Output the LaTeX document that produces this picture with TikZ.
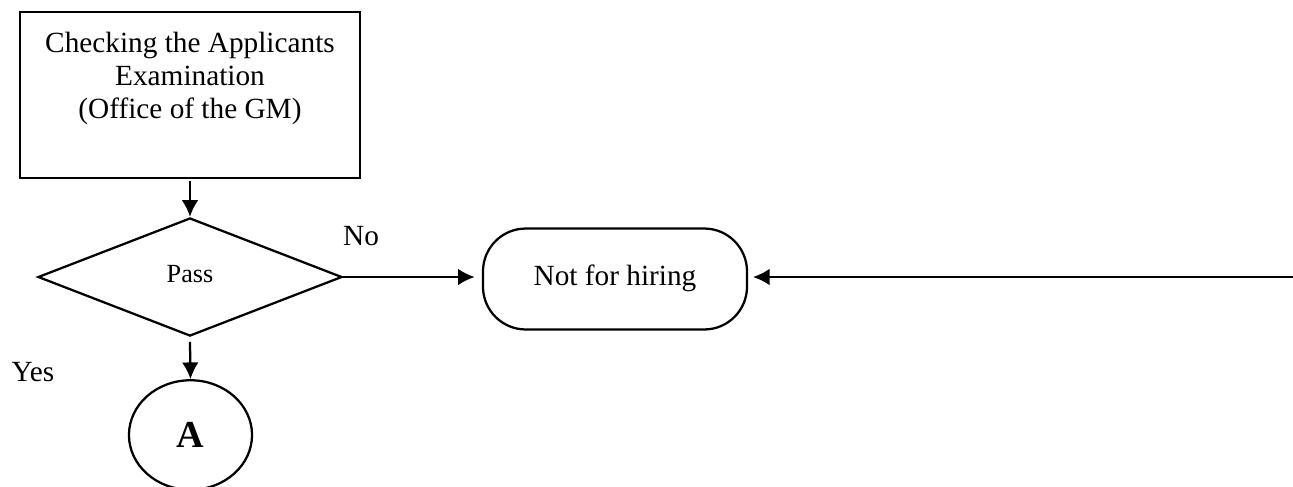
\documentclass[tikz,border=0pt]{standalone}
\usepackage{fontspec}
\setmainfont{Liberation Serif}
\usetikzlibrary{positioning, arrows.meta, shapes.geometric}

\begin{document}
\begin{tikzpicture}[x=0.42pt, y=0.42pt, >={Latex[length=7pt,width=7pt]}, font=\fontsize{12.3}{14}\selectfont, line width=0.95pt]
	\useasboundingbox (0,0) rectangle (1293,-486);
	\node[draw, minimum width=143pt, minimum height=69.7pt, align=center, inner sep=0pt] (chk) at (190,-95) {Checking the Applicants\\Examination\\(Office of the GM)\\[2.6pt]\mbox{}};
	\node[draw, diamond, aspect=2.6, minimum width=127.7pt, minimum height=49.6pt, inner sep=0pt, font=\fontsize{11}{13}\selectfont] (pass) at (190,-277) {\raisebox{3pt}{Pass}};
	\node[draw, rounded corners=18pt, minimum width=110.9pt, minimum height=42.4pt] (nfh) at (615,-279) {\raisebox{3pt}{Not for hiring}};
	\node[draw, ellipse, minimum width=51.7pt, minimum height=46pt, inner sep=0pt, font=\fontsize{16}{19}\selectfont\bfseries] (A) at (190.5,-435) {A};
	\node (no) at (361,-236) {No};
	\node (yes) at (33,-372) {Yes};
	\coordinate (rt) at (1293,-277);
	\draw[->] ([yshift=-1pt]chk.south) -- (pass.north);
	\draw[->, shorten >=3pt] (pass.east) -- (pass.east -| nfh.west);
	\draw[->] ([yshift=-2pt]pass.south) -- (A.north);
	\draw[->, shorten >=2pt] (rt) -- (rt -| nfh.east);
\end{tikzpicture}
\end{document}
